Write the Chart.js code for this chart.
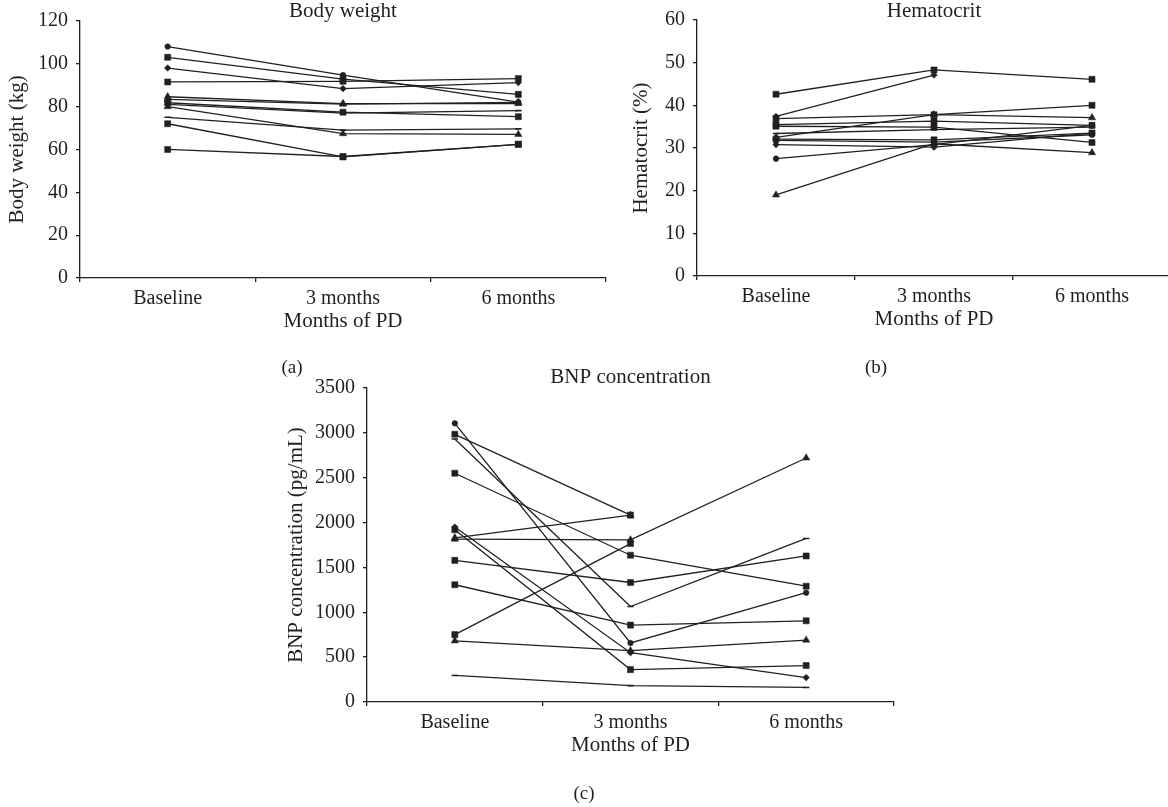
<!DOCTYPE html>
<html>
<head>
<meta charset="utf-8">
<script src="https://cdn.jsdelivr.net/npm/chart.js@4.4.1/dist/chart.umd.min.js"></script>
<style>
  html, body { margin: 0; padding: 0; background: #fff; width: 1168px; height: 807px; overflow: hidden; }
  .box { position: absolute; }
  .lab { position: absolute; font-family: 'Liberation Serif', 'DejaVu Serif', serif; font-size: 19px; color: #231f20; transform: translate(-50%, -50%); white-space: nowrap; }
</style>
</head>
<body>
<div class="box" style="left:0px;top:0px;width:620px;height:345px"><canvas id="ca"></canvas></div>
<div class="box" style="left:600px;top:0px;width:580px;height:345px"><canvas id="cb"></canvas></div>
<div class="box" style="left:250px;top:360px;width:660px;height:447px"><canvas id="cc"></canvas></div>
<div class="lab" style="left:292px;top:367px">(a)</div>
<div class="lab" style="left:876px;top:367px">(b)</div>
<div class="lab" style="left:584px;top:793px">(c)</div>
<script>
// ---------------- data ----------------
const categories = ['Baseline', '3 months', '6 months'];

// Body weight (kg) per patient: Baseline, 3 months, 6 months
const weightSeries = [
  [108, 94.7, 82.1],
  [103, 92.8, 85.7],
  [98, 88.4, 91.2],
  [91.5, 91.8, 93.1],
  [84.6, 81.4, 81.4],
  [83.4, 81.2, 82.0],
  [81.8, 77.4, 75.3],
  [81.0, 77.0, 78.1],
  [80.0, 67.4, 67.0],
  [75.0, 69.0, 69.6],
  [72.0, 56.5, 62.4],
  [60.0, 56.7, 62.4]
];
const weightMarkers = ['circle','rect','rectRot','rect','triangle','triangle','rect','line','triangle','line','rect','rect'];
const weightTicks = [0, 20, 40, 60, 80, 100, 120];

// Hematocrit (%) per patient
const hctSeries = [
  [42.6, 48.3, 46.1],
  [37.4, 47.1, null],
  [36.9, 37.8, 40.0],
  [35.5, 36.3, 35.3],
  [35.1, 34.9, 31.3],
  [33.4, 34.3, 34.9],
  [32.5, 37.8, 37.1],
  [32.1, 31.9, 33.5],
  [31.8, 31.4, 33.1],
  [30.8, 30.2, 33.5],
  [27.5, 30.8, 35.3],
  [19.0, 31.0, 28.9]
];
const hctMarkers = ['rect','rectRot','rect','rect','rect','line','triangle','rect','circle','rectRot','circle','triangle'];
const hctTicks = [0, 10, 20, 30, 40, 50, 60];

// BNP concentration (pg/mL) per patient
const bnpSeries = [
  [3106, 658, 1218],
  [2984, 2083, null],
  [2931, 1064, 1823],
  [2550, 1636, 1291],
  [1950, 550, 272],
  [1920, 361, 406],
  [1830, 2083, null],
  [1815, 1807, 2720],
  [1579, 1332, 1628],
  [1307, 857, 905],
  [751, 1766, null],
  [682, 573, 690],
  [296, 183, 162]
];
const bnpMarkers = ['circle','rect','line','rect','rectRot','rect','triangle','triangle','rect','rect','rect','triangle','line'];
const bnpTicks = [0, 500, 1000, 1500, 2000, 2500, 3000, 3500];

// ---------------- drawing ----------------
const INK = '#231f20';
const FONT = "'Liberation Serif', 'DejaVu Serif', serif";
const markerRadius = { circle: 2.8, rect: 4.3, rectRot: 3.3, triangle: 4.2, line: 3.2 };

function makeChart(id, series, markers, ticks, cfg) {
  const datasets = series.map((vals, i) => ({
    data: vals,
    borderColor: INK,
    borderWidth: 1.3,
    pointStyle: markers[i],
    pointRadius: markerRadius[markers[i]],
    pointBackgroundColor: INK,
    pointBorderColor: INK,
    pointBorderWidth: markers[i] === 'line' ? 1.6 : 0.5,
    fill: false,
    tension: 0,
    spanGaps: false
  }));
  const step = ticks[1] - ticks[0];
  return new Chart(document.getElementById(id), {
    type: 'line',
    data: { labels: categories, datasets },
    options: {
      responsive: true,
      maintainAspectRatio: false,
      animation: false,
      events: [],
      layout: { padding: cfg.padding },
      plugins: {
        legend: { display: false },
        tooltip: { enabled: false },
        title: {
          display: true,
          text: cfg.title,
          color: INK,
          fullSize: false,
          font: { family: FONT, size: 21, weight: 'normal', lineHeight: cfg.titleLH },
          padding: { top: 0, bottom: 0 }
        }
      },
      scales: {
        x: {
          type: 'category',
          offset: true,
          grid: { display: true, offset: true, drawOnChartArea: false, drawTicks: true, tickLength: 4, color: INK, lineWidth: 1.3 },
          border: { display: true, color: INK, width: 1.3 },
          ticks: { color: INK, font: { family: FONT, size: 20 }, padding: 5, maxRotation: 0, autoSkip: false },
          title: { display: true, text: 'Months of PD', color: INK, font: { family: FONT, size: 21 }, padding: { top: 0, bottom: 4.4 } },
          afterFit(s) { s.height = 60; }
        },
        y: {
          min: ticks[0],
          max: ticks[ticks.length - 1],
          afterBuildTicks(s) { s.ticks = ticks.map(v => ({ value: v })); },
          grid: { display: true, drawOnChartArea: false, drawTicks: true, tickLength: 4, color: INK, lineWidth: 1.3 },
          border: { display: true, color: INK, width: 1.3 },
          ticks: { color: INK, font: { family: FONT, size: 20 }, padding: 8, stepSize: step, callback: v => String(v) },
          title: { display: true, text: cfg.yTitle, color: INK, font: { family: FONT, size: 21 }, padding: { top: 4.4, bottom: 0 } },
          afterFit(s) { s.width = cfg.yWidth; }
        }
      }
    }
  });
}

makeChart('ca', weightSeries, weightMarkers, weightTicks, {
  title: 'Body weight', yTitle: 'Body weight (kg)', titleLH: 0.9, yWidth: 80,
  padding: { left: 0, top: 2, right: 14, bottom: 7 }
});
makeChart('cb', hctSeries, hctMarkers, hctTicks, {
  title: 'Hematocrit', yTitle: 'Hematocrit (%)', titleLH: 0.8, yWidth: 73,
  padding: { left: 24, top: 2, right: 9, bottom: 9 }
});
makeChart('cc', bnpSeries, bnpMarkers, bnpTicks, {
  title: 'BNP concentration', yTitle: 'BNP concentration (pg/mL)', titleLH: 1.0, yWidth: 88,
  padding: { left: 29, top: 7, right: 16, bottom: 45 }
});
</script>
</body>
</html>
